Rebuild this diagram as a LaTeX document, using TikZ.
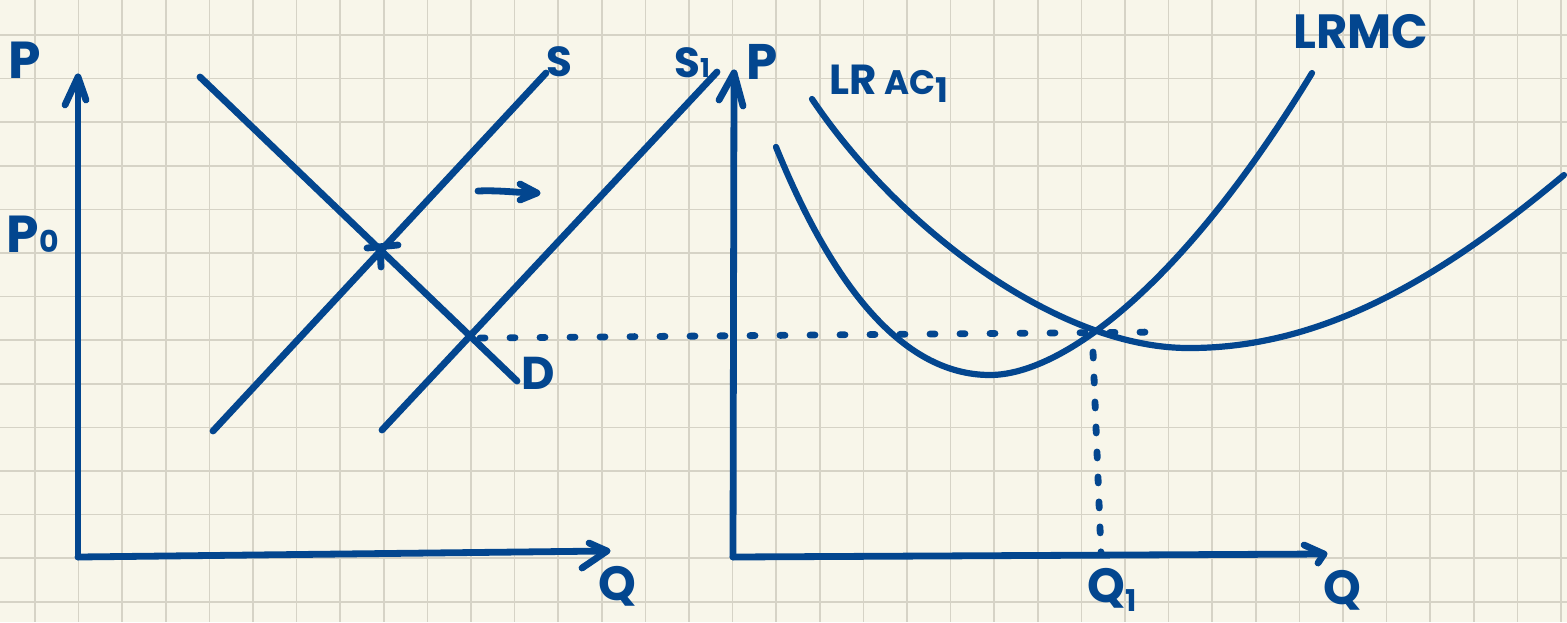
\documentclass[tikz,border=0pt]{standalone}
\usepackage{fontspec}
\setmainfont{Poppins}
\definecolor{ink}{HTML}{03468F}
\definecolor{paper}{HTML}{F8F6EA}
\definecolor{gridc}{HTML}{D6D3C6}
\newcommand{\fsz}[1]{\fontsize{#1}{#1}\selectfont}
\begin{document}
\begin{tikzpicture}[x=0.5pt,y=-0.5pt,
  inkline/.style={draw=ink,line width=3.4pt,line cap=round,line join=round},
  curveline/.style={draw=ink,line width=3.1pt,line cap=round},
  hguide/.style={draw=ink,line width=3.4pt,line cap=round,dash pattern=on 2.5pt off 12.5pt},
  vguide/.style={draw=ink,line width=3.4pt,line cap=round,dash pattern=on 3pt off 9.5pt},
  lab/.style={text=ink,inner sep=0pt,font=\bfseries}]
\fill[paper] (0,0) rectangle (1567,622);
\useasboundingbox (0,0) rectangle (1567,622);
\foreach \i in {0,...,35} \draw[gridc,line width=0.8pt] ({35+43.6*\i},0) -- ({35+43.6*\i},622);
\foreach \i in {0,...,13} \draw[gridc,line width=0.8pt] (0,{35+43.6*\i}) -- (1567,{35+43.6*\i});

% ---------- left chart ----------
\coordinate (O1) at (78,557);
\coordinate (P1top) at (78,77);
\coordinate (Q1end) at (607,551);
\draw[inkline] (O1) -- (P1top);
\draw[inkline] (65,105) -- (P1top) -- (86,100);
\draw[inkline] (O1) -- (Q1end);
\draw[inkline] (589,543) -- (Q1end) -- (582,568);

\coordinate (Dtop) at (200,77);
\coordinate (Dbot) at (517,381);
\coordinate (Sbot) at (213,431);
\coordinate (Stop) at (546,73);
\coordinate (S1bot) at (382,430);
\coordinate (S1top) at (717,72);
\draw[inkline] (Dtop) -- (Dbot);
\draw[inkline] (Sbot) -- (Stop);
\draw[inkline] (S1bot) -- (S1top);

% equilibrium tick marks
\coordinate (E1) at (380,248);
\draw[inkline] (367,248) -- (398,245);
\draw[inkline] (E1) -- (381,267);

% shift arrow
\coordinate (Ashaft) at (478,191);
\coordinate (Atip) at (537,193);
\draw[inkline] (Ashaft) .. controls (500,190) and (520,193) .. (Atip);
\draw[inkline] (520,184) -- (Atip) -- (520,200);

% labels left
\node[lab,font=\bfseries\fsz{26}] (lP) at (25,60) {P};
\node[lab,font=\bfseries\fsz{26}] (lP0) at (33,234) {P{\fsz{15}0}};
\node[lab,font=\bfseries\fsz{24}] (lQ) at (617,586) {Q};
\node[lab,font=\bfseries\fsz{21}] (lS) at (559,62) {S};
\node[lab,font=\bfseries\fsz{21}] (lS1) at (692,63) {S{\fsz{13}1}};
\node[lab,font=\bfseries\fsz{23}] (lD) at (538,373) {D};

% horizontal guide
\coordinate (E2) at (466,337);
\coordinate (Gend) at (1160,332);
\draw[hguide] (480,338) -- (Gend);

% ---------- right chart ----------
\coordinate (O2) at (733,557);
\coordinate (P2top) at (734,73);
\coordinate (Q2end) at (1324,554);
\draw[inkline] (O2) -- (P2top);
\draw[inkline] (719,100) -- (P2top) -- (743,106);
\draw[inkline] (O2) -- (Q2end);
\draw[inkline] (1304,545) -- (Q2end) -- (1318,563);

% LRMC
\coordinate (MCa) at (776,147);
\coordinate (MCmin) at (990,375);
\coordinate (MCb) at (1312,73);
\draw[curveline] (MCa) .. controls (830,280) and (900,375) .. (MCmin)
  .. controls (1060,375) and (1180,290) .. (MCb);
% LRAC1
\coordinate (ACa) at (812,99);
\coordinate (ACmin) at (1190,348);
\coordinate (ACb) at (1564,175);
\draw[curveline] (ACa) .. controls (900,230) and (1060,349) .. (ACmin)
  .. controls (1330,348) and (1450,270) .. (ACb);

% vertical guide
\coordinate (E3) at (1093,340);
\coordinate (Q1foot) at (1101,553);
\draw[vguide] (1093,352) -- (Q1foot);

% labels right
\node[lab,font=\bfseries\fsz{25}] (rP) at (762,62) {P};
\node[lab] (lLRAC) at (889,84) {{\fsz{21}LR\,}{\fsz{17}AC\raisebox{-0.25em}{1}}};
\node[lab,font=\bfseries\fsz{24}] (lLRMC) at (1361,32) {LRMC};
\node[lab,font=\bfseries\fsz{24}] (lQ1) at (1112,590) {Q\raisebox{-0.2em}{\fsz{15}1}};
\node[lab,font=\bfseries\fsz{24}] (rQ) at (1342,590) {Q};
\end{tikzpicture}
\end{document}
